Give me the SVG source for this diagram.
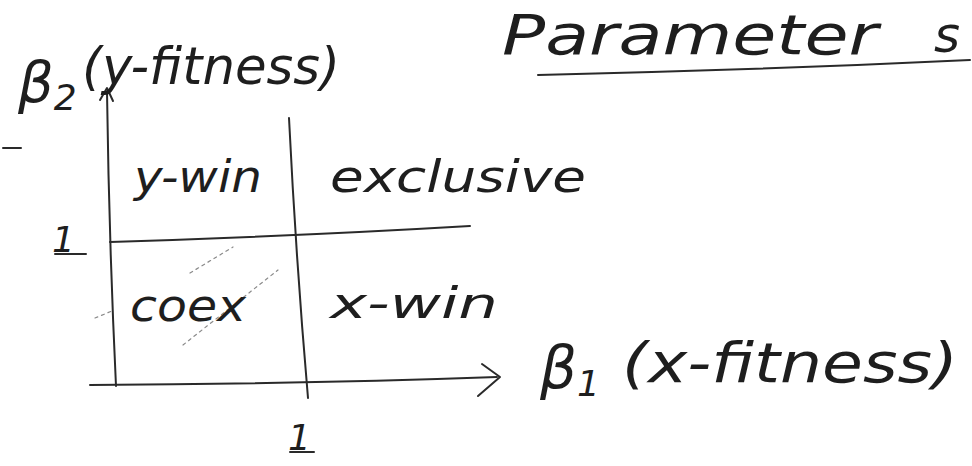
<svg xmlns="http://www.w3.org/2000/svg" width="972" height="466" viewBox="0 0 972 466">
  <style>
    .ink { fill: none; stroke: #2a2a2a; stroke-width: 2; stroke-linecap: round; stroke-linejoin: round; }
    .faint { fill: none; stroke: #8a8a8a; stroke-width: 1.2; stroke-dasharray: 3 4; stroke-linecap: round; }
    .hand { font-family: "DejaVu Sans", "Liberation Sans", sans-serif; font-style: italic; fill: #1e1e1e; }
  </style>
  <rect width="972" height="466" fill="#ffffff"/>

  <!-- title -->
  <g id="title">
    <text class="hand" x="502" y="54" font-size="56" textLength="376" lengthAdjust="spacingAndGlyphs">Parameter</text>
    <text class="hand" x="934" y="52" font-size="50">s</text>
    <path class="ink" d="M538 75 Q 760 70 970 60" stroke-width="1.8"/>
  </g>

  <!-- axes and grid lines -->
  <g id="connectors">
    <!-- vertical axis (beta2) -->
    <path class="ink" d="M107 92 Q 109 240 116 386"/>
    <path class="ink" d="M100 100 L107 88 L113 101"/>
    <!-- horizontal axis (beta1) -->
    <path class="ink" d="M90 385 Q 300 384 497 377"/>
    <path class="ink" d="M482 364 L500 377 L478 396"/>
    <!-- beta1 = 1 divider -->
    <path class="ink" d="M289 118 Q 296 260 308 398"/>
    <!-- beta2 = 1 divider -->
    <path class="ink" d="M110 242 Q 300 236 470 226"/>
    <!-- stray tick on the left -->
    <path class="ink" d="M3 148 L21 148"/>
    <!-- faint diagonal marks through the coexistence cell -->
    <path class="faint" d="M183 345 L278 270"/>
    <path class="faint" d="M190 273 L233 247"/>
    <path class="faint" d="M95 318 L112 311"/>
  </g>

  <!-- axis labels -->
  <g id="beta2-label">
    <text class="hand" x="18" y="102" font-size="56">β<tspan font-size="36" dy="8">2</tspan></text>
    <text class="hand" x="82" y="84" font-size="52" textLength="258" lengthAdjust="spacingAndGlyphs">(y-fitness)</text>
  </g>
  <g id="beta1-label">
    <text class="hand" x="540" y="388" font-size="58">β<tspan font-size="36" dy="8">1</tspan></text>
    <text class="hand" x="622" y="382" font-size="56" textLength="336" lengthAdjust="spacingAndGlyphs">(x-fitness)</text>
  </g>

  <!-- tick labels -->
  <g id="tick-y1">
    <text class="hand" x="52" y="252" font-size="36">1</text>
    <path class="ink" d="M55 254 L86 254"/>
  </g>
  <g id="tick-x1">
    <text class="hand" x="288" y="450" font-size="36">1</text>
    <path class="ink" d="M290 452 L314 452"/>
  </g>

  <!-- regions -->
  <g id="region-y-win">
    <text class="hand" x="134" y="192" font-size="44" textLength="128" lengthAdjust="spacingAndGlyphs">y-win</text>
  </g>
  <g id="region-exclusive">
    <text class="hand" x="330" y="192" font-size="44" textLength="256" lengthAdjust="spacingAndGlyphs">exclusive</text>
  </g>
  <g id="region-coex">
    <text class="hand" x="130" y="321" font-size="44" textLength="116" lengthAdjust="spacingAndGlyphs">coex</text>
  </g>
  <g id="region-x-win">
    <text class="hand" x="330" y="318" font-size="42" textLength="168" lengthAdjust="spacingAndGlyphs">x-win</text>
  </g>
</svg>
